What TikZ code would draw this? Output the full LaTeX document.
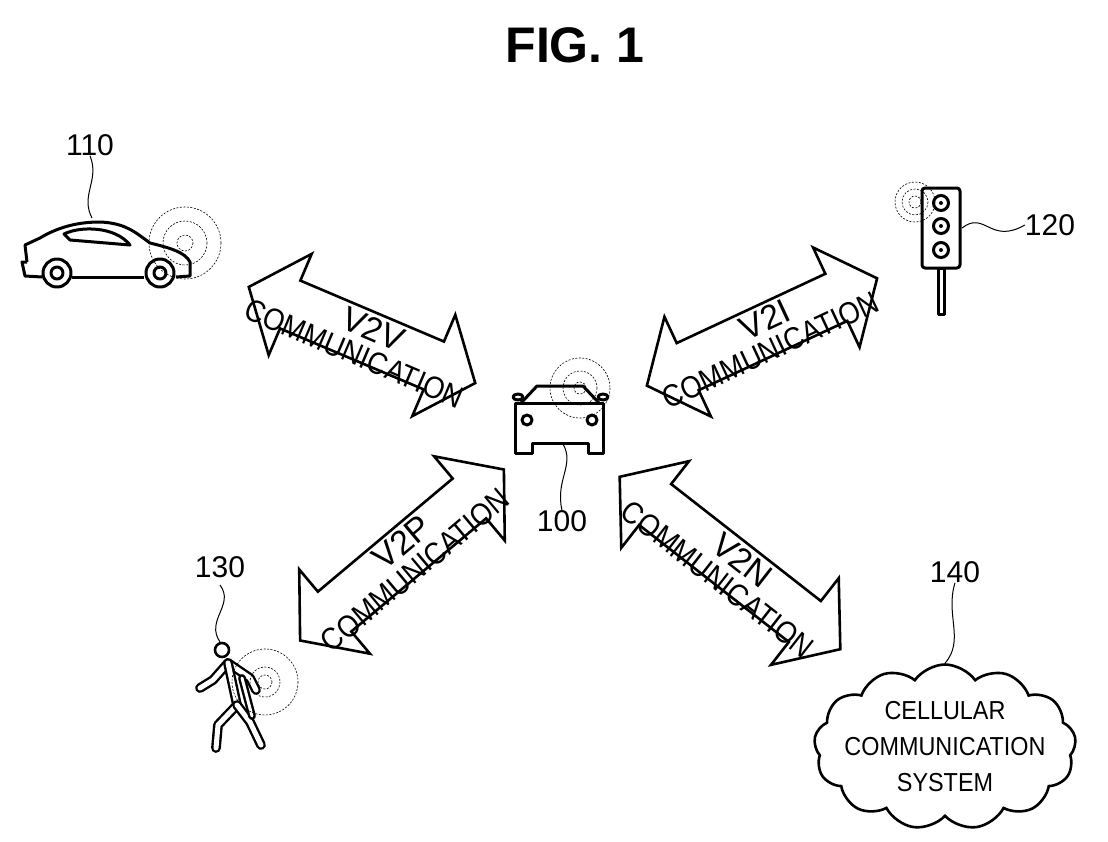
\documentclass[tikz,border=0pt]{standalone}
\usepackage{fontspec}
\setmainfont{Liberation Sans}
\usetikzlibrary{shapes.symbols}
\tikzset{
  outline/.style={line width=3pt, line join=round},
  signal/.style={line width=0.6pt, dash pattern=on 2pt off 1.5pt},
  leader/.style={line width=1pt},
  label/.style={font=\fontsize{30}{32}\selectfont, inner sep=0pt},
  walker/.style={line width=2.4pt, double, double distance=5pt, line join=round, line cap=round},
  pics/bigarrow/.style n args={3}{code={
    \def\hl{#1}
    \draw[line width=2.6pt, line join=miter, fill=white]
      (-\hl,0) -- ({-\hl+45},-55) -- ({-\hl+45},-26) -- ({\hl-45},-26)
      -- ({\hl-45},-55) -- (\hl,0) -- ({\hl-45},55) -- ({\hl-45},26)
      -- ({-\hl+45},26) -- ({-\hl+45},55) -- cycle;
    \node[transform shape, inner sep=0pt, font=\fontsize{34}{34}\selectfont] at (8,-10) {#2};
    \node[transform shape, inner sep=0pt, xscale=0.88, font=\fontsize{31}{31}\selectfont] at (0,20) {#3};
  }}
}
\begin{document}
\begin{tikzpicture}[x=1pt, y=-1pt]
\useasboundingbox (0,0) rectangle (1108,841);
% title
\node[font=\bfseries\fontsize{50}{50}\selectfont] (title) at (575,45) {FIG. 1};

% communication arrows
\pic at (362,335) [rotate=-23] {bigarrow={123}{V2V}{COMMUNICATION}};
\pic at (762,332) [rotate=25] {bigarrow={127}{V2I}{COMMUNICATION}};
\pic at (402,555) [rotate=40] {bigarrow={133}{V2P}{COMMUNICATION}};
\pic at (730,563) [rotate=-38] {bigarrow={140}{V2N}{COMMUNICATION}};

% vehicle 110
\draw[outline] (27,262) -- (25,245) -- (40,238) .. controls (60,226) and (80,222) .. (100,222)
  .. controls (125,223) and (135,232) .. (150,243) .. controls (170,248) and (185,252) .. (190,262)
  -- (190,276) -- (176,277);
\draw[outline] (144,277) -- (72,277);
\draw[outline] (42,277) -- (25,276) -- (22,262) -- (27,262);
\draw[outline] (64,234) .. controls (80,226) and (115,226) .. (130,245) -- (70,240) -- cycle;
\foreach \x in {57,160} {
  \draw[outline] (\x,273) circle (14);
  \draw[outline] (\x,273) circle (6);
}
\foreach \r in {8,22,36} \draw[signal] (185,243) circle (\r);
\node[label] (n110) at (90,145) {110};
\draw[leader] (n110.south) .. controls (100,180) and (80,195) .. (92,218);

% traffic light 120
\draw[outline, rounded corners=3pt] (922,188) rectangle (960,268);
\foreach \y in {203,226,250} {
  \draw[outline] (941,\y) circle (7.5);
  \fill (941,\y) circle (2);
}
\draw[outline] (938,268) rectangle (944,314);
\foreach \r in {6,13,20} \draw[signal] (915,202) circle (\r);
\node[label] (n120) at (1050,225) {120};
\draw[leader] (962,228) .. controls (985,210) and (990,245) .. (n120.west);

% vehicle 100
\draw[outline] (515,403) -- (603,403) -- (603,453) -- (588,453) -- (588,443)
  -- (532,443) -- (532,453) -- (515,453) -- cycle;
\draw[outline] (521,403) -- (537,386) -- (583,386) -- (599,403);
\draw[outline] (518,397) ellipse (5 and 3);
\draw[outline] (603,397) ellipse (5 and 3);
\draw[outline] (527,420) circle (5);
\draw[outline] (592,420) circle (5);
\foreach \r in {6,17,30} \draw[signal] (580,388) circle (\r);
\node[label] (n100) at (562,521) {100};
\draw[leader] (563,444) .. controls (575,465) and (555,480) .. (n100.north);

% pedestrian 130
\draw[line width=2.6pt] (222,650) circle (7);
\draw[walker] (200,688) -- (213,680) -- (228,663) -- (250,678) -- (256,690);
\draw[walker] (228,663) -- (237,705) -- (218,725) -- (216,748);
\draw[walker] (237,705) -- (250,722) -- (261,745);
\draw[walker, double distance=3pt] (242,678) -- (252,716);
\foreach \r in {7,15,33} \draw[signal] (265,682) circle (\r);
\node[label] (n130) at (220,567) {130};
\draw[leader] (220,585) .. controls (235,605) and (205,620) .. (220,642);

% cellular system 140
\node[cloud, draw, line width=2.6pt, cloud puffs=13, cloud puff arc=110, aspect=1.6,
  minimum width=262pt, minimum height=165pt, inner sep=0pt] (cell) at (945,747) {};
\node[align=center, inner sep=0pt, xscale=0.9, font=\fontsize{26}{36}\selectfont] (celltext) at (cell.center)
  {CELLULAR\\COMMUNICATION\\SYSTEM};
\node[label] (n140) at (955,572) {140};
\draw[leader] (n140.south) .. controls (945,615) and (965,640) .. (cell.north);
\end{tikzpicture}
\end{document}
